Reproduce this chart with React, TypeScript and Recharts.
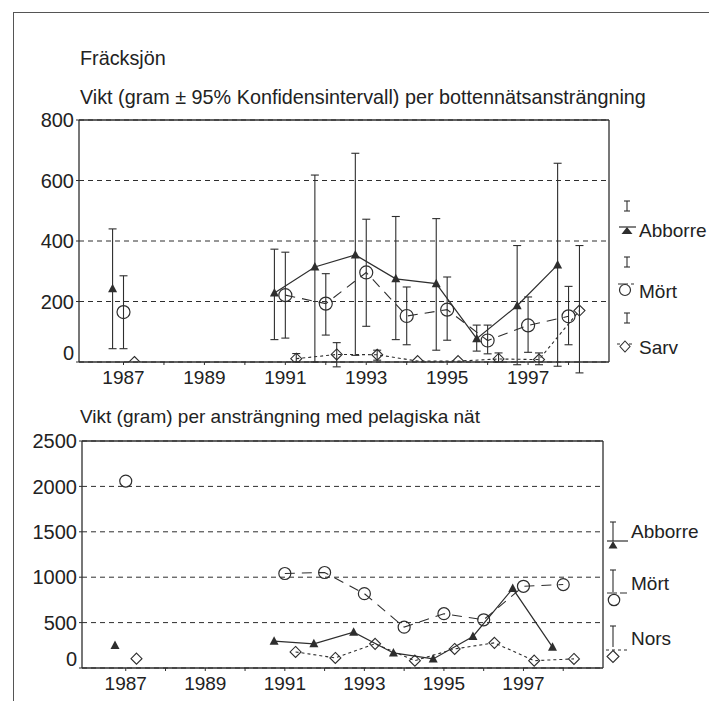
import React from 'react'
import { LineChart, Line, XAxis, YAxis, CartesianGrid, ErrorBar, ReferenceLine } from 'recharts'

// years on the axis; 1988-1990 have no sampling
const years = [1987, 1988, 1989, 1990, 1991, 1992, 1993, 1994, 1995, 1996, 1997, 1998]

// bottom nets, weight (g) per effort with 95% CI
const bottAbborre = [242, null, null, null, 228, 314, 354, 275, 259, 77, 186, 321]
const bottAbborreLow = [44, null, null, null, 74, 0, 22, 74, 39, 36, -9, -14]
const bottAbborreHigh = [440, null, null, null, 373, 618, 690, 481, 474, 122, 385, 657]

const bottMort = [165, null, null, null, 221, 193, 296, 152, 173, 71, 121, 151]
const bottMortLow = [44, null, null, null, 79, 89, 118, 57, 72, 27, 32, 57]
const bottMortHigh = [285, null, null, null, 363, 292, 472, 248, 281, 122, 215, 250]

const bottSarv = [0, null, null, null, 11, 25, 24, 3, 3, 10, 8, 170]
const bottSarvLow = [null, null, null, null, 0, -16, 6, null, null, 0, -9, -36]
const bottSarvHigh = [null, null, null, null, 28, 64, 39, null, null, 30, 30, 385]

// pelagic nets, weight (g) per effort
const pelAbborre = [247, null, null, null, 295, 266, 395, 166, 100, 347, 875, 229]
const pelMort = [2059, null, null, null, 1041, 1052, 819, 450, 598, 531, 900, 919]
const pelNors = [103, null, null, null, 177, 111, 266, 81, 210, 277, 81, 100]

const bottTicks = [0, 200, 400, 600, 800]
const pelTicks = [0, 500, 1000, 1500, 2000, 2500]

const INK = '#2e2e2e'
const TEXT = '#222'
const FONT = "'Liberation Sans', Arial, Helvetica, sans-serif"
const X_DOMAIN: [number, number] = [1985.9, 1999]
// the three species are dodged inside each year
const DODGE = [-0.27, 0, 0.27]

type Val = number | null

function makeRows(values: Val[], offset: number, low?: Val[], high?: Val[]) {
  return years.map((yr, i) => {
    const v = values[i]
    const row: any = { x: yr + offset, y: v }
    if (v != null && low && high && low[i] != null && high[i] != null) {
      row.err = [v - (low[i] as number), (high[i] as number) - v]
    }
    return row
  })
}

const TriangleDot = (props: any) => {
  const { cx, cy, index } = props
  if (cx == null || cy == null || props.value == null) return <g key={`t${index}`} />
  return <path key={`t${index}`} d={`M${cx},${cy - 5} L${cx + 4.5},${cy + 3.5} L${cx - 4.5},${cy + 3.5} Z`} fill={INK} />
}

const CircleDot = (r: number) => (props: any) => {
  const { cx, cy, index } = props
  if (cx == null || cy == null || props.value == null) return <g key={`c${index}`} />
  return <circle key={`c${index}`} cx={cx} cy={cy} r={r} fill="none" stroke={INK} strokeWidth={1.2} />
}

const DiamondDot = (props: any) => {
  const { cx, cy, index } = props
  if (cx == null || cy == null || props.value == null) return <g key={`d${index}`} />
  const s = 5.5
  return <path key={`d${index}`} d={`M${cx},${cy - s} L${cx + s},${cy} L${cx},${cy + s} L${cx - s},${cy} Z`} fill="none" stroke={INK} strokeWidth={1.1} />
}

const YTick = (props: any) => {
  const { x, y, payload } = props
  // Excel lifts the zero label a bit off the category axis
  const shift = payload.value === 0 ? -9 : 0
  return (
    <text x={x} y={y + shift} dy="0.355em" textAnchor="end" fontSize={20} fill={TEXT} fontFamily={FONT}>
      {payload.value}
    </text>
  )
}

const yearLabel = (v: number) => (v % 2 === 1 ? String(v) : '')

function xAxisProps() {
  return {
    type: 'number' as const,
    dataKey: 'x',
    domain: X_DOMAIN,
    allowDataOverflow: true,
    ticks: years,
    interval: 0 as const,
    tickFormatter: yearLabel,
    tickSize: 3,
    tickMargin: 6,
    axisLine: { stroke: INK, strokeWidth: 1.3 },
    tickLine: { stroke: INK },
    tick: { fontSize: 19, fill: TEXT, fontFamily: FONT },
  }
}

const errStyle = { stroke: INK, strokeWidth: 1.1 }

function BottomNetChart() {
  return (
    <LineChart width={620} height={300} margin={{ top: 20, right: 11, bottom: 8, left: 19 }}>
      <CartesianGrid vertical={false} stroke={INK} strokeDasharray="5 4" />
      <XAxis {...xAxisProps()} height={30} />
      <YAxis
        domain={[0, 800]}
        allowDataOverflow
        ticks={bottTicks}
        width={60}
        tickSize={3}
        tick={<YTick />}
        axisLine={{ stroke: INK, strokeWidth: 1.3 }}
        tickLine={{ stroke: INK }}
      />
      <ReferenceLine y={800} stroke={INK} strokeWidth={1.3} />
      <ReferenceLine x={1999} stroke={INK} strokeWidth={1.3} />
      <Line data={makeRows(bottSarv, DODGE[2], bottSarvLow, bottSarvHigh)} dataKey="y" stroke={INK} strokeWidth={1.1}
        strokeDasharray="3 3" dot={DiamondDot} activeDot={false} isAnimationActive={false}>
        <ErrorBar dataKey="err" width={4} direction="y" {...errStyle} />
      </Line>
      <Line data={makeRows(bottMort, DODGE[1], bottMortLow, bottMortHigh)} dataKey="y" stroke={INK} strokeWidth={1.1}
        strokeDasharray="10 7" dot={CircleDot(6.5)} activeDot={false} isAnimationActive={false}>
        <ErrorBar dataKey="err" width={4} direction="y" {...errStyle} />
      </Line>
      <Line data={makeRows(bottAbborre, DODGE[0], bottAbborreLow, bottAbborreHigh)} dataKey="y" stroke={INK} strokeWidth={1.2}
        dot={TriangleDot} activeDot={false} isAnimationActive={false}>
        <ErrorBar dataKey="err" width={4} direction="y" {...errStyle} />
      </Line>
    </LineChart>
  )
}

function PelagicChart() {
  return (
    <LineChart width={620} height={280} margin={{ top: 21, right: 17, bottom: 7, left: 20 }}>
      <CartesianGrid vertical={false} stroke={INK} strokeDasharray="5 4" />
      <XAxis {...xAxisProps()} height={25} />
      <YAxis
        domain={[0, 2500]}
        allowDataOverflow
        ticks={pelTicks}
        width={62}
        tickSize={3}
        tick={<YTick />}
        axisLine={{ stroke: INK, strokeWidth: 1.3 }}
        tickLine={{ stroke: INK }}
      />
      <ReferenceLine y={2500} stroke={INK} strokeWidth={1.3} />
      <ReferenceLine x={1999} stroke={INK} strokeWidth={1.3} />
      <Line data={makeRows(pelNors, DODGE[2])} dataKey="y" stroke={INK} strokeWidth={1.1}
        strokeDasharray="3 3" dot={DiamondDot} activeDot={false} isAnimationActive={false} />
      <Line data={makeRows(pelMort, DODGE[1])} dataKey="y" stroke={INK} strokeWidth={1.1}
        strokeDasharray="10 7" dot={CircleDot(6)} activeDot={false} isAnimationActive={false} />
      <Line data={makeRows(pelAbborre, DODGE[0])} dataKey="y" stroke={INK} strokeWidth={1.2}
        dot={TriangleDot} activeDot={false} isAnimationActive={false} />
    </LineChart>
  )
}

// little error-bar glyph used in the legends
const BarGlyph = ({ x, y1, y2 }: { x: number; y1: number; y2: number }) => (
  <g stroke={INK} strokeWidth={1.1}>
    <line x1={x} y1={y1} x2={x} y2={y2} />
    <line x1={x - 3} y1={y1} x2={x + 3} y2={y1} />
    <line x1={x - 3} y1={y2} x2={x + 3} y2={y2} />
  </g>
)

function Legends() {
  const txt = { fontSize: 19, fill: TEXT, fontFamily: FONT }
  return (
    <svg width={709} height={701} style={{ position: 'absolute', left: 0, top: 0, pointerEvents: 'none' }}>
      {/* bottom nets */}
      <BarGlyph x={627} y1={201} y2={211} />
      <line x1={619} y1={227} x2={636} y2={227} stroke={INK} strokeWidth={1.2} />
      <path d="M627,227 L632.5,234 L621.5,234 Z" fill={INK} />
      <text x={639} y={230} dy="0.355em" {...txt}>Abborre</text>

      <BarGlyph x={627} y1={257} y2={267} />
      <line x1={618} y1={284} x2={634} y2={284} stroke={INK} strokeWidth={1.1} strokeDasharray="10 3" />
      <circle cx={625} cy={290} r={5.5} fill="none" stroke={INK} strokeWidth={1.2} />
      <text x={639} y={291} dy="0.355em" {...txt}>Mört</text>

      <BarGlyph x={627} y1={313} y2={323} />
      <line x1={617} y1={344} x2={634} y2={344} stroke={INK} strokeWidth={1.1} strokeDasharray="3 3" />
      <path d="M625,341 L630,346.5 L625,352 L620,346.5 Z" fill="#fff" stroke={INK} strokeWidth={1.1} />
      <text x={639} y={347} dy="0.355em" {...txt}>Sarv</text>

      {/* pelagic nets */}
      <g stroke={INK} strokeWidth={1.1}>
        <line x1={613} y1={522} x2={613} y2={541} />
        <line x1={610} y1={522} x2={616} y2={522} />
        <line x1={607} y1={541} x2={628} y2={541} strokeWidth={1.2} />
        <line x1={613} y1={570} x2={613} y2={592} />
        <line x1={610} y1={570} x2={616} y2={570} />
        <line x1={607} y1={593} x2={627} y2={593} strokeDasharray="10 3" />
        <line x1={613} y1={626} x2={613} y2={647} />
        <line x1={610} y1={626} x2={616} y2={626} />
        <line x1={606} y1={650} x2={627} y2={650} strokeDasharray="3 3" />
      </g>
      <path d="M613,541 L617.5,548.5 L608.5,548.5 Z" fill={INK} />
      <text x={631} y={531} dy="0.355em" {...txt}>Abborre</text>
      <circle cx={614} cy={600} r={5.7} fill="#fff" stroke={INK} strokeWidth={1.2} />
      <text x={631} y={583} dy="0.355em" {...txt}>Mört</text>
      <path d="M613,650.5 L619,656.5 L613,662.5 L607,656.5 Z" fill="#fff" stroke={INK} strokeWidth={1.1} />
      <text x={631} y={638} dy="0.355em" {...txt}>Nors</text>
    </svg>
  )
}

const titleStyle: React.CSSProperties = {
  position: 'absolute',
  left: 80,
  fontFamily: FONT,
  fontSize: 19.8,
  color: TEXT,
  lineHeight: '22px',
  whiteSpace: 'nowrap',
}

export default function App() {
  return (
    <div style={{ position: 'absolute', left: 0, top: 0, width: 709, height: 701, overflow: 'hidden', background: '#fff', fontFamily: FONT }}>
      {/* scanned page frame */}
      <div style={{ position: 'absolute', left: 13, top: 12, width: 720, height: 720, borderLeft: '1.5px solid #555', borderTop: '1.5px solid #555' }} />
      <div style={{ ...titleStyle, top: 47 }}>Fräcksjön</div>
      <div style={{ ...titleStyle, top: 86 }}>Vikt (gram ± 95% Konfidensintervall) per bottennätsansträngning</div>
      <div style={{ ...titleStyle, top: 406, fontSize: 19 }}>Vikt (gram) per ansträngning med pelagiska nät</div>
      <div style={{ position: 'absolute', left: 0, top: 100 }}>
        <BottomNetChart />
      </div>
      <div style={{ position: 'absolute', left: 0, top: 420 }}>
        <PelagicChart />
      </div>
      <Legends />
    </div>
  )
}
